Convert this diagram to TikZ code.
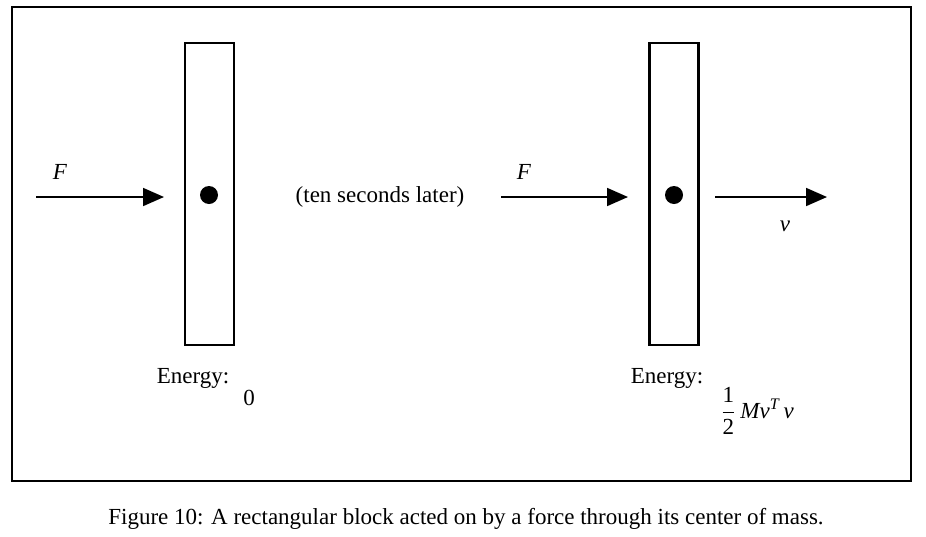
\documentclass[tikz,border=0pt]{standalone}
\usepackage{fontspec}
\usepackage{amsmath}
\setmainfont{Liberation Serif}
\usetikzlibrary{arrows.meta}

\tikzstyle{block}=[
    draw,
    line width=1.2pt,
    minimum width=24.5pt,
    minimum height=151pt,
    inner sep=0pt
]
\tikzstyle{mass}=[
    circle,
    fill=black,
    minimum size=9pt,
    inner sep=0pt
]
\tikzstyle{force}=[
    line width=0.9pt,
    -{Triangle[length=10.5pt,width=9pt]}
]
\tikzstyle{label}=[
    inner sep=0pt,
    font=\fontsize{11.5}{13}\selectfont
]

\begin{document}
\begin{tikzpicture}[x=0.5pt,y=-0.5pt]
	\useasboundingbox (0,0) rectangle (926,536);
	% frame
	\draw[line width=1pt] (12,7) rectangle (911,481);

	% BLOCKS
	\node (block_0) [block] at (209.5,194) {};
	\node (block_T) [block] at (674,194) {};
	\node (mass_0) [mass] at (209,195) {};
	\node (mass_T) [mass] at (674,195) {};

	% ARROW ENDS
	\coordinate (f_0_tail) at (36,197);
	\coordinate (f_0_head) at (164,197);
	\coordinate (f_T_tail) at (501,197);
	\coordinate (f_T_head) at (628,197);
	\coordinate (v_T_tail) at (715,197);
	\coordinate (v_T_head) at (827,197);

	\draw[force] (f_0_tail) -- (f_0_head);
	\draw[force] (f_T_tail) -- (f_T_head);
	\draw[force] (v_T_tail) -- (v_T_head);

	% LABELS
	\node (lab_f_0) [label] at (60,172) {\textit{F}};
	\node (lab_f_T) [label] at (524,172) {\textit{F}};
	\node (lab_v) [label] at (785,226) {\textit{v}};
	\node (later) [label] at (380,197) {(ten seconds later)};
	\node (energy_0) [label] at (193,378) {Energy:};
	\node (value_0) [label] at (249,398) {0};
	\node (energy_T) [label] at (667,378) {Energy:};
	\node (value_T) [label] at (757,411)
		{$\dfrac{\text{1}}{\text{2}}\,\textit{Mv}^{\textit{T}}\textit{\,v}$};
	\node (caption) [label] at (466,519)
		{Figure 10: A rectangular block acted on by a force through its center of mass.};
\end{tikzpicture}
\end{document}
